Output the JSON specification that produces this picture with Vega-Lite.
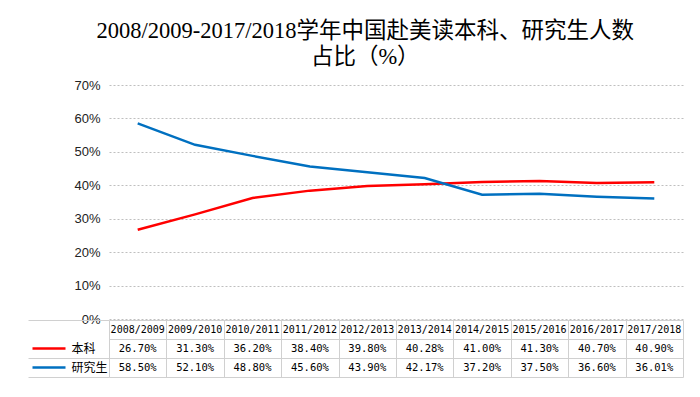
{
  "$schema": "https://vega.github.io/schema/vega-lite/v6.json",
  "padding": {"left": 27, "top": 19, "right": 5, "bottom": 5},
  "background": "white",
  "title": {
    "text": ["2008/2009-2017/2018学年中国赴美读本科、研究生人数", "占比（%）"],
    "font": "Liberation Serif, Noto Sans CJK SC",
    "fontSize": 22.5,
    "fontWeight": "normal",
    "lineHeight": 26,
    "anchor": "middle",
    "color": "#000000",
    "offset": 11,
    "dx": 10
  },
  "datasets": {
    "d": [
      {"year": "2008/2009", "type": "本科", "value": 26.70},
      {"year": "2009/2010", "type": "本科", "value": 31.30},
      {"year": "2010/2011", "type": "本科", "value": 36.20},
      {"year": "2011/2012", "type": "本科", "value": 38.40},
      {"year": "2012/2013", "type": "本科", "value": 39.80},
      {"year": "2013/2014", "type": "本科", "value": 40.28},
      {"year": "2014/2015", "type": "本科", "value": 41.00},
      {"year": "2015/2016", "type": "本科", "value": 41.30},
      {"year": "2016/2017", "type": "本科", "value": 40.70},
      {"year": "2017/2018", "type": "本科", "value": 40.90},
      {"year": "2008/2009", "type": "研究生", "value": 58.50},
      {"year": "2009/2010", "type": "研究生", "value": 52.10},
      {"year": "2010/2011", "type": "研究生", "value": 48.80},
      {"year": "2011/2012", "type": "研究生", "value": 45.60},
      {"year": "2012/2013", "type": "研究生", "value": 43.90},
      {"year": "2013/2014", "type": "研究生", "value": 42.17},
      {"year": "2014/2015", "type": "研究生", "value": 37.20},
      {"year": "2015/2016", "type": "研究生", "value": 37.50},
      {"year": "2016/2017", "type": "研究生", "value": 36.60},
      {"year": "2017/2018", "type": "研究生", "value": 36.01}
    ]
  },
  "data": {"name": "d"},
  "spacing": 1,
  "bounds": "flush",
  "config": {"view": {"stroke": null}},
  "vconcat": [
    {
      "width": 574,
      "height": 234,
      "mark": {"type": "line", "strokeWidth": 2.5},
      "encoding": {
        "x": {"field": "year", "type": "nominal", "sort": null, "scale": {"paddingInner": 0, "paddingOuter": 0}, "axis": null},
        "y": {
          "field": "value",
          "type": "quantitative",
          "scale": {"domain": [0, 70], "nice": false},
          "axis": {
            "values": [0, 10, 20, 30, 40, 50, 60, 70],
            "labelExpr": "datum.value + '%'",
            "domain": false,
            "ticks": false,
            "labelPadding": 9,
            "labelFont": "Liberation Sans",
            "labelFontSize": 13,
            "labelColor": "#222222",
            "gridColor": "#bfbfbf",
            "gridDash": [2, 2],
            "title": null
          }
        },
        "color": {
          "field": "type",
          "type": "nominal",
          "scale": {"domain": ["本科", "研究生"], "range": ["#ff0000", "#0070c0"]},
          "legend": null
        }
      }
    },
    {
      "width": 574,
      "height": 57,
      "layer": [
        {
          "transform": [{"filter": "datum.type === '本科'"}],
          "mark": {"type": "text", "font": "DejaVu Sans Mono", "fontSize": 10, "color": "#000000"},
          "encoding": {
            "x": {
              "field": "year", "type": "nominal", "sort": null,
              "scale": {"paddingInner": 0, "paddingOuter": 0},
              "axis": {"orient": "top", "tickBand": "extent", "grid": true, "gridColor": "#d0d0d0", "gridDash": [], "gridWidth": 1, "ticks": false, "labels": false, "domain": false, "title": null}
            },
            "y": {
              "datum": "header", "type": "nominal",
              "scale": {"domain": ["header", "本科", "研究生"], "paddingInner": 0, "paddingOuter": 0},
              "axis": {
                "orient": "left",
                "tickBand": "extent",
                "grid": true,
                "gridColor": "#d0d0d0",
                "gridDash": [],
                "gridWidth": 1,
                "ticks": true,
                "tickSize": 81,
                "tickColor": "#d0d0d0",
                "tickOpacity": {"condition": {"test": "datum.value === 'header'", "value": 0}, "value": 1},
                "labels": false,
                "domain": false,
                "title": null
              }
            },
            "text": {"field": "year"}
          }
        },
        {
          "transform": [{"calculate": "format(datum.value, '.2f') + '%'", "as": "label"}],
          "mark": {"type": "text", "font": "DejaVu Sans Mono", "fontSize": 10.5, "color": "#000000"},
          "encoding": {
            "x": {
              "field": "year", "type": "nominal", "sort": null,
              "scale": {"paddingInner": 0, "paddingOuter": 0},
              "axis": {"orient": "top", "tickBand": "extent", "grid": true, "gridColor": "#d0d0d0", "gridDash": [], "gridWidth": 1, "ticks": false, "labels": false, "domain": false, "title": null}
            },
            "y": {
              "field": "type", "type": "nominal",
              "axis": {
                "orient": "left",
                "offset": 44,
                "domain": false,
                "grid": false,
                "ticks": true,
                "tickSize": 33,
                "tickWidth": 2.5,
                "tickColor": {"condition": [{"test": "datum.value === '本科'", "value": "#ff0000"}, {"test": "datum.value === '研究生'", "value": "#0070c0"}], "value": "transparent"},
                "labels": true,
                "labelAlign": "left",
                "labelPadding": -39,
                "labelExpr": "datum.value === 'header' ? '' : datum.value",
                "labelFont": "Noto Sans CJK SC",
                "labelFontSize": 12,
                "labelColor": "#000000",
                "title": null
              }
            },
            "text": {"field": "label"}
          }
        }
      ],
      "resolve": {"axis": {"y": "independent"}}
    }
  ]
}
